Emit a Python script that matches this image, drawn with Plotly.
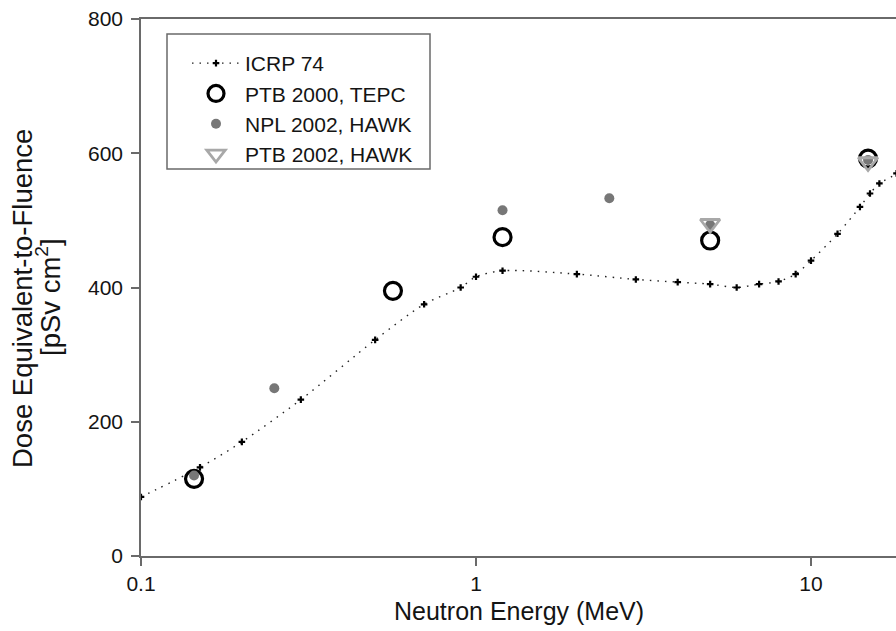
import plotly.graph_objects as go

# ICRP 74 reference curve
icrp_e = [0.1, 0.15, 0.2, 0.3, 0.5, 0.7, 0.9, 1.0, 1.2, 2.0, 3.0, 4.0, 5.0, 6.0, 7.0, 8.0, 9.0, 10.0, 12.0, 14.0, 15.0, 16.0, 18.0, 20.0]
icrp_h = [88, 132, 170, 233, 322, 375, 400, 416, 425, 420, 412, 408, 405, 400, 405, 409, 420, 440, 480, 520, 540, 555, 570, 600]

# PTB 2000, TEPC
ptb00_e = [0.144, 0.565, 1.2, 5.0, 14.8]
ptb00_h = [115, 395, 475, 470, 592]

# NPL 2002, HAWK
npl02_e = [0.144, 0.25, 1.2, 2.5, 5.0, 14.8]
npl02_h = [120, 250, 515, 533, 493, 590]

# PTB 2002, HAWK
ptb02_e = [5.0, 14.8]
ptb02_h = [495, 587]

xtick_vals = [0.1, 1, 10]
xtick_text = ["0.1", "1", "10"]
ytick_vals = [0, 200, 400, 600, 800]

FONT = "Liberation Sans, Arial, sans-serif"
TXT = "#141414"
AX = "#6a6a6a"

fig = go.Figure()
fig.add_trace(go.Scatter(
    x=icrp_e, y=icrp_h, name="ICRP 74", mode="lines+markers",
    line=dict(color="#222222", width=1.4, dash="1.5px,6px", shape="spline", smoothing=0.8),
    marker=dict(symbol="cross", size=5.5, color="black"),
))
fig.add_trace(go.Scatter(
    x=ptb00_e, y=ptb00_h, name="PTB 2000, TEPC", mode="markers",
    marker=dict(symbol="circle-open", size=17, color="black", line=dict(width=3.2, color="black")),
))
fig.add_trace(go.Scatter(
    x=npl02_e, y=npl02_h, name="NPL 2002, HAWK", mode="markers",
    marker=dict(symbol="circle", size=10, color="#777777"),
))
fig.add_trace(go.Scatter(
    x=ptb02_e, y=ptb02_h, name="PTB 2002, HAWK", mode="markers",
    marker=dict(symbol="triangle-down-open", size=17, color="#a8a8a8", line=dict(width=2.8, color="#a8a8a8")),
))

W, H = 896, 631
ML, MR, MT, MB = 141, 0, 19, 75
pw = W - ML - MR
ph = H - MT - MB
decade = 335.0
xr = [-1, -1 + pw / decade]

def px_x(p):
    return (p - ML) / pw

def px_y(p):
    return (H - MB - p) / ph

fig.update_layout(
    width=W, height=H,
    margin=dict(l=ML, r=MR, t=MT, b=MB),
    paper_bgcolor="white", plot_bgcolor="white",
    font=dict(family=FONT, size=21, color=TXT),
    showlegend=True,
    legend=dict(
        x=px_x(187), y=px_y(43), xanchor="left", yanchor="top",
        bgcolor="rgba(0,0,0,0)", borderwidth=0,
        font=dict(size=21, color=TXT), itemwidth=48,
        tracegroupgap=0,
    ),
    xaxis=dict(
        type="log", range=xr, tickvals=xtick_vals, ticktext=xtick_text,
        showgrid=False, zeroline=False, showline=True, mirror=True,
        linecolor=AX, linewidth=1.5, ticks="outside", ticklen=8, tickcolor=AX, tickwidth=1.5,
        tickfont=dict(size=21, color=TXT),
    ),
    yaxis=dict(
        range=[0, 800], tickvals=ytick_vals,
        showgrid=False, zeroline=False, showline=True,
        linecolor=AX, linewidth=1.5, ticks="outside", ticklen=8, tickcolor=AX, tickwidth=1.5,
        tickfont=dict(size=21, color=TXT), ticklabelstandoff=4,
    ),
    shapes=[dict(
        type="rect", xref="paper", yref="paper",
        x0=px_x(167), x1=px_x(430), y0=px_y(169), y1=px_y(34),
        line=dict(color=AX, width=1.5), fillcolor="rgba(0,0,0,0)", layer="below",
    )],
    annotations=[
        dict(text="Neutron Energy (MeV)", xref="paper", yref="paper",
             x=0.5, y=px_y(611), xanchor="center", yanchor="middle",
             showarrow=False, font=dict(size=25, color=TXT)),
        dict(text="Dose Equivalent-to-Fluence", xref="paper", yref="paper",
             x=px_x(22), y=px_y(299), xanchor="center", yanchor="middle", textangle=-90,
             showarrow=False, font=dict(size=27.5, color=TXT)),
        dict(text="[pSv cm<sup>2</sup>]", xref="paper", yref="paper",
             x=px_x(48), y=px_y(297), xanchor="center", yanchor="middle", textangle=-90,
             showarrow=False, font=dict(size=27.5, color=TXT)),
    ],
)

fig.write_html("out.html")
